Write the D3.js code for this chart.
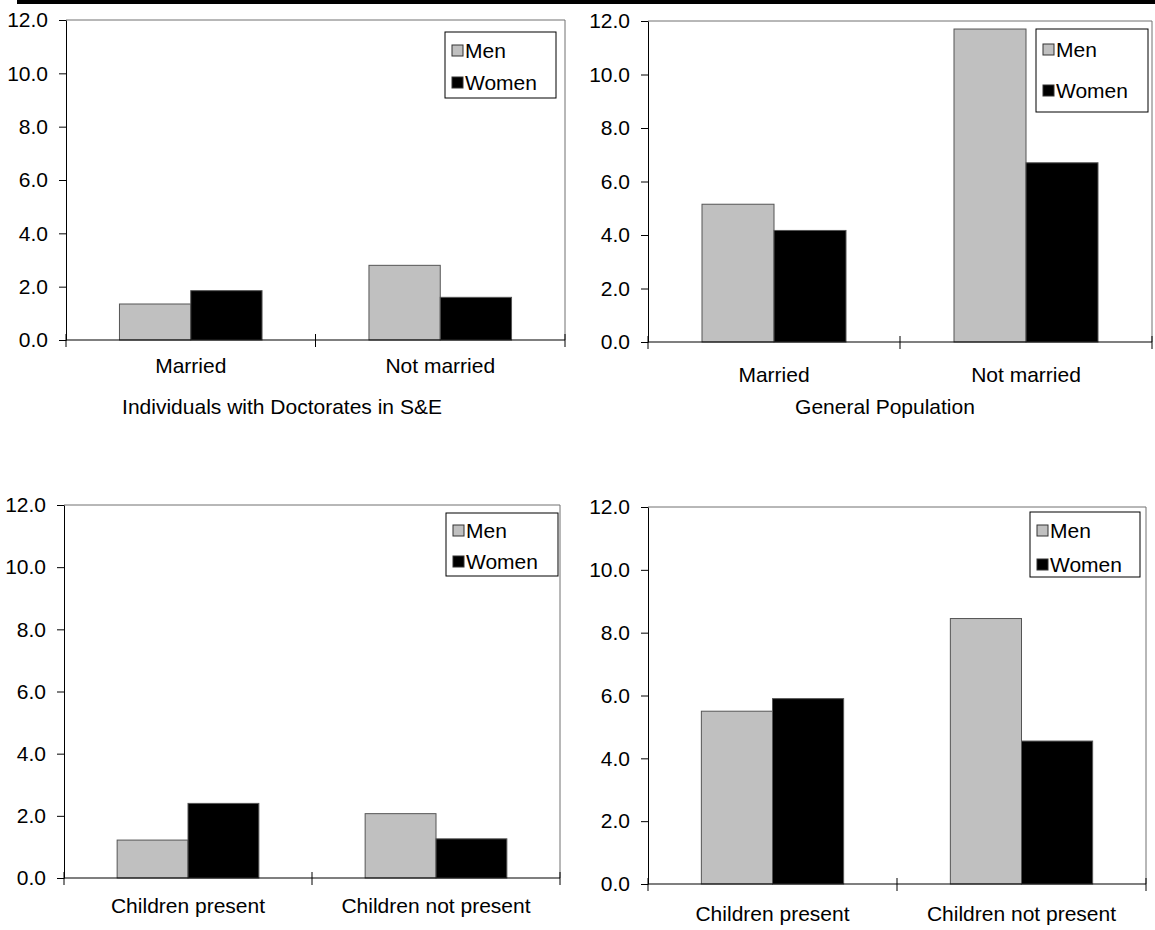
<!DOCTYPE html>
<html>
<head>
<meta charset="utf-8">
<script src="https://cdn.jsdelivr.net/npm/d3@7"></script>
<style>
  html, body { margin: 0; padding: 0; background: #fff; }
  svg { display: block; font-family: "Liberation Sans", Arial, sans-serif; }
</style>
</head>
<body>
<svg id="chart" width="1155" height="930"></svg>
<script>
// ---------- data ----------
const maritalCategories = ["Married", "Not married"];
const childCategories = ["Children present", "Children not present"];
const seriesNames = ["Men", "Women"];
const yTickValues = [0, 2, 4, 6, 8, 10, 12];
const titles = ["Individuals with Doctorates in S&E", "General Population"];

const doctoratesMaritalMen = [1.35, 2.8];
const doctoratesMaritalWomen = [1.85, 1.6];
const generalMaritalMen = [5.15, 11.7];
const generalMaritalWomen = [4.17, 6.7];
const doctoratesChildMen = [1.22, 2.07];
const doctoratesChildWomen = [2.4, 1.26];
const generalChildMen = [5.5, 8.45];
const generalChildWomen = [5.9, 4.55];

// ---------- style ----------
const seriesFill = ["#c0c0c0", "#000000"];
const FONT = 21;

const svg = d3.select("#chart");

// header rule
svg.append("rect").attr("x", 17).attr("y", 0).attr("width", 1155 - 17).attr("height", 4).attr("fill", "#000");

const panels = [
  { cats: maritalCategories, men: doctoratesMaritalMen, women: doctoratesMaritalWomen,
    x0: 66, x1: 565, yTop: 20, yZero: 340,
    legend: { x: 445, y: 32, w: 111, h: 66, rows: [50, 82] }, catY: 373,
    title: titles[0], titleX: 282, titleY: 414 },
  { cats: maritalCategories, men: generalMaritalMen, women: generalMaritalWomen,
    x0: 648, x1: 1152, yTop: 21, yZero: 342,
    legend: { x: 1036, y: 29, w: 112, h: 83, rows: [49, 90] }, catY: 382,
    title: titles[1], titleX: 885, titleY: 414 },
  { cats: childCategories, men: doctoratesChildMen, women: doctoratesChildWomen,
    x0: 64, x1: 560, yTop: 505, yZero: 878,
    legend: { x: 446, y: 513, w: 112, h: 63, rows: [530, 561] }, catY: 913 },
  { cats: childCategories, men: generalChildMen, women: generalChildWomen,
    x0: 648, x1: 1146, yTop: 507, yZero: 884,
    legend: { x: 1030, y: 512, w: 110, h: 65, rows: [530, 564] }, catY: 921 }
];

panels.forEach(p => {
  const g = svg.append("g");
  const x = d3.scaleBand().domain(p.cats).range([p.x0, p.x1]).paddingInner(0).paddingOuter(0);
  const y = d3.scaleLinear().domain([0, 12]).range([p.yZero, p.yTop]);
  const bw = x.bandwidth() / 3.5;
  const xs = d3.scaleBand().domain(seriesNames).range([0.75 * bw, 2.75 * bw]);

  // frame (top & right)
  g.append("line").attr("x1", p.x0).attr("x2", p.x1).attr("y1", p.yTop).attr("y2", p.yTop)
    .attr("stroke", "#707070").attr("stroke-width", 1);
  g.append("line").attr("x1", p.x1).attr("x2", p.x1).attr("y1", p.yTop).attr("y2", p.yZero)
    .attr("stroke", "#707070").attr("stroke-width", 1);

  // bars
  const rows = p.cats.map((c, i) => ({ cat: c, vals: [p.men[i], p.women[i]] }));
  rows.forEach(r => {
    g.selectAll(null).data(r.vals).enter().append("rect")
      .attr("x", (d, j) => x(r.cat) + xs(seriesNames[j]))
      .attr("y", d => y(d))
      .attr("width", xs.bandwidth())
      .attr("height", d => y(0) - y(d))
      .attr("fill", (d, j) => seriesFill[j])
      .attr("stroke", "#555")
      .attr("stroke-width", 1);
  });

  // y axis
  const yAxis = d3.axisLeft(y).tickValues(yTickValues).tickFormat(d3.format(".1f"))
    .tickSize(7).tickSizeOuter(0).tickPadding(11);
  const ya = g.append("g").attr("transform", `translate(${p.x0},0)`).call(yAxis);
  ya.select(".domain").attr("stroke", "#000");
  ya.selectAll("text").attr("font-size", FONT).attr("font-family", "Liberation Sans, Arial, sans-serif").attr("fill", "#000");

  // x axis baseline with cross ticks at category boundaries
  g.append("line").attr("x1", p.x0).attr("x2", p.x1).attr("y1", p.yZero).attr("y2", p.yZero)
    .attr("stroke", "#000").attr("stroke-width", 1.2);
  const bounds = p.cats.map(c => x(c)).concat([p.x1]);
  g.selectAll(null).data(bounds).enter().append("line")
    .attr("x1", d => d).attr("x2", d => d)
    .attr("y1", p.yZero - 6).attr("y2", p.yZero + 7)
    .attr("stroke", "#000");

  // category labels
  g.selectAll(null).data(p.cats).enter().append("text")
    .attr("x", d => x(d) + x.bandwidth() / 2)
    .attr("y", p.catY)
    .attr("text-anchor", "middle")
    .attr("font-size", FONT)
    .text(d => d);

  // legend
  const L = p.legend;
  g.append("rect").attr("x", L.x).attr("y", L.y).attr("width", L.w).attr("height", L.h)
    .attr("fill", "#fff").attr("stroke", "#000").attr("stroke-width", 1);
  const le = g.selectAll(null).data(seriesNames).enter().append("g")
    .attr("transform", (d, i) => `translate(${L.x + 7},${L.rows[i]})`);
  le.append("rect").attr("x", 0).attr("y", -5).attr("width", 11).attr("height", 11)
    .attr("fill", (d, i) => seriesFill[i]).attr("stroke", "#333").attr("stroke-width", 1);
  le.append("text").attr("x", 13).attr("y", 7.5).attr("font-size", FONT).text(d => d);

  if (p.title) {
    g.append("text").attr("x", p.titleX).attr("y", p.titleY).attr("text-anchor", "middle")
      .attr("font-size", FONT).text(p.title);
  }
});
</script>
</body>
</html>
